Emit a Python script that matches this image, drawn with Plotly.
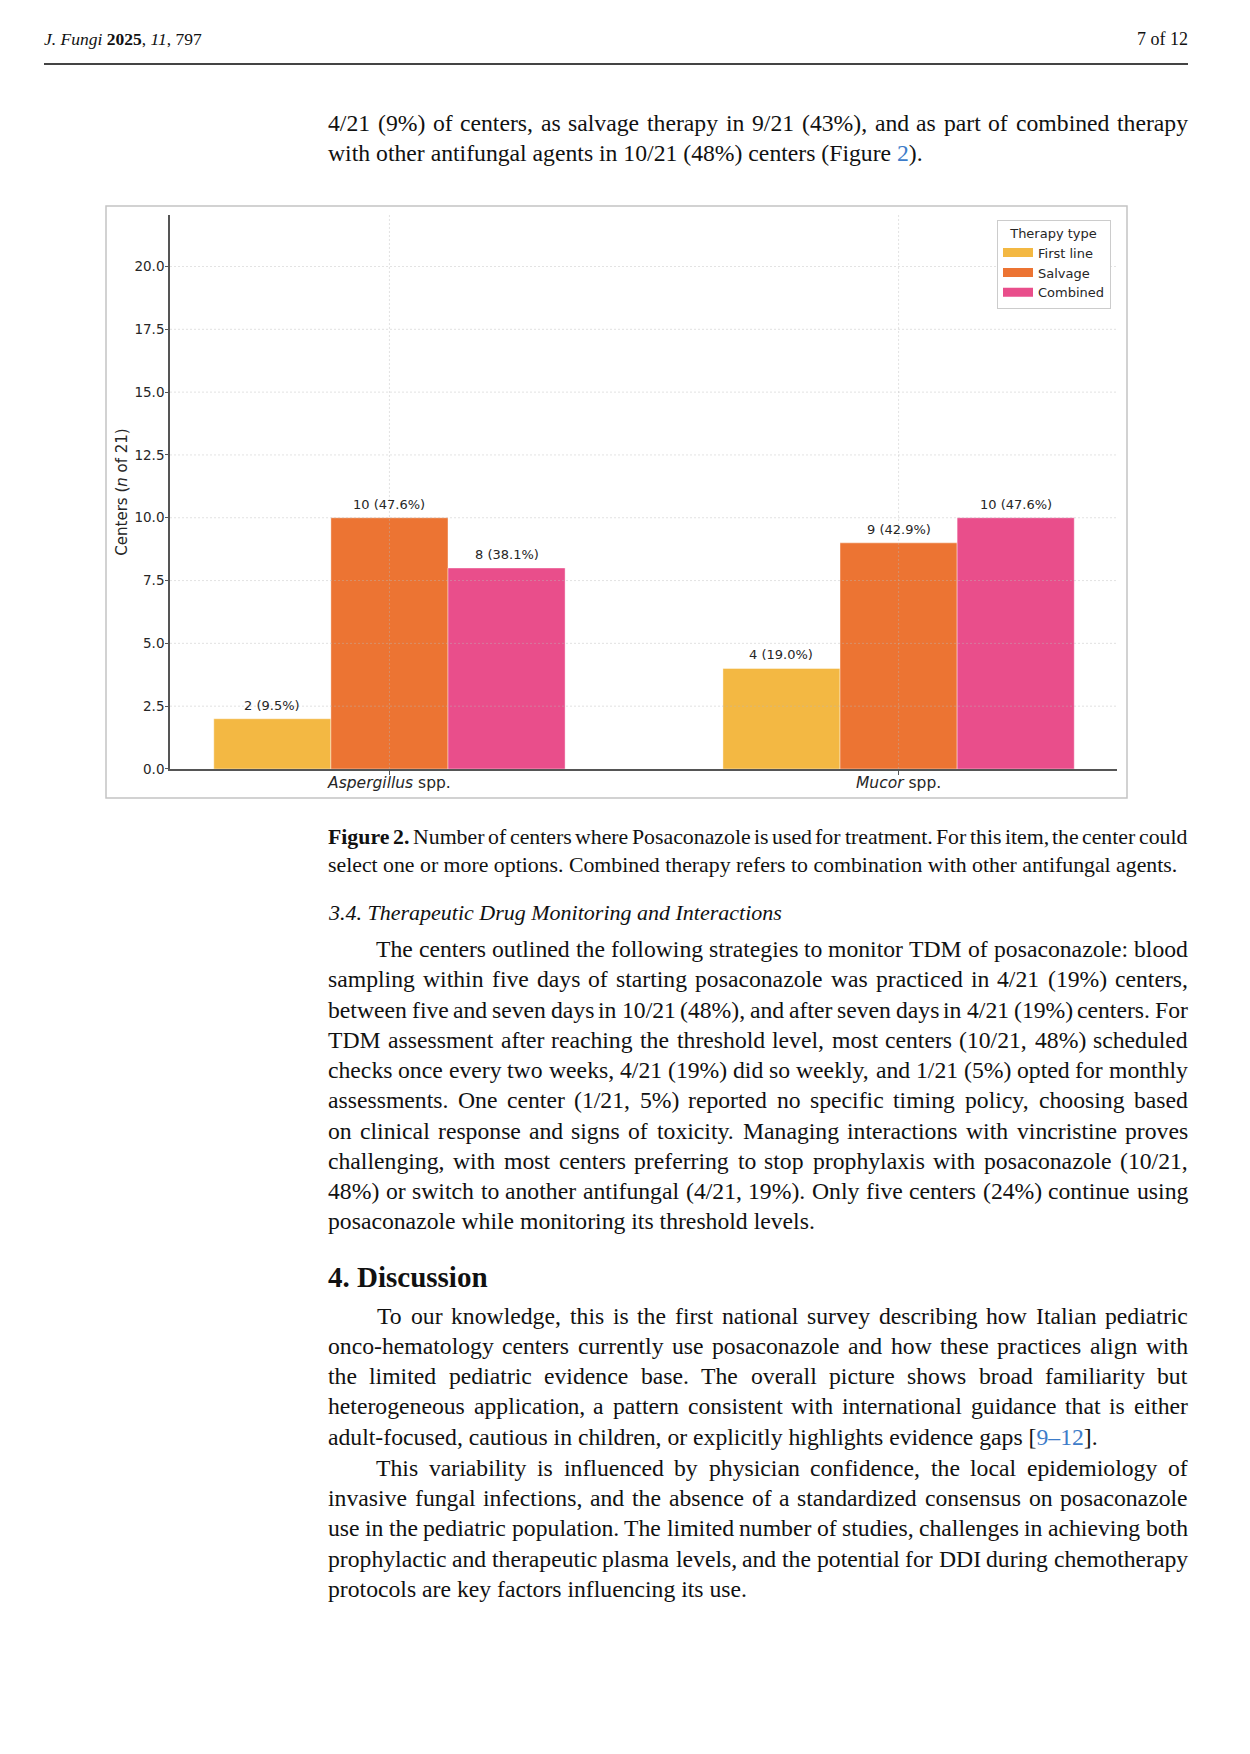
import plotly.graph_objects as go

# ---------------- data ----------------
categories = ["Aspergillus spp.", "Mucor spp."]
category_ticktext = ["<i>Aspergillus</i> spp.", "<i>Mucor</i> spp."]
therapy_types = ["First line", "Salvage", "Combined"]
first_line = [2, 4]
salvage = [10, 9]
combined = [8, 10]
total_centers = 21
y_ticks = [0, 2.5, 5, 7.5, 10, 12.5, 15, 17.5, 20]
y_max = 22.05

series = [first_line, salvage, combined]
bar_colors = ["rgb(243,184,67)", "rgb(236,116,51)", "rgb(233,78,139)"]

# ---------------- page geometry helpers ----------------
W, H = 1250, 1754
SY = 1762 / 1754  # small vertical compensation observed in the rendered page
def px(x):
    return x / W
def py(y):
    return 1 - y * SY / H

CHART_FONT = "DejaVu Sans"
BODY_FONT = "Liberation Serif"
TEXT = "#111111"
LINK = "#3d7cc9"
AX = "#555555"
CHART_TXT = "#262626"
GRID = "rgba(185,185,185,0.42)"
BARGAP = 0.31

annotations = []
shapes = []

fig = go.Figure()
x_pos = list(range(len(categories)))
bar_w = (1 - BARGAP) / len(series)
for k, (name, vals, col) in enumerate(zip(therapy_types, series, bar_colors)):
    fig.add_trace(go.Bar(
        x=x_pos, y=vals, name=name, showlegend=False,
        marker=dict(color=col, line=dict(color="rgba(255,255,255,0.5)", width=0.8)),
        hoverinfo="skip",
    ))
    # value labels above each bar (positioned at the bar centres of the grouped layout)
    for i, v in zip(x_pos, vals):
        annotations.append(dict(
            text=f"{v} ({v / total_centers * 100:.1f}%)",
            x=i + (k - (len(series) - 1) / 2) * bar_w, y=v, xref="x", yref="y",
            xanchor="center", yanchor="middle", yshift=13.5, showarrow=False,
            font=dict(family=CHART_FONT, size=13, color=CHART_TXT)))
# legend entries drawn as wide swatches (matplotlib-style patches)
for name, col in zip(therapy_types, bar_colors):
    fig.add_trace(go.Scatter(x=[None], y=[None], mode="lines", name=name,
                             line=dict(color=col, width=9), hoverinfo="skip"))

# dotted grid drawn above the bars (as in the source figure)
for t in y_ticks[1:]:
    shapes.append(dict(type="line", xref="x domain", yref="y", x0=0, x1=1, y0=t, y1=t,
                       layer="above", line=dict(color=GRID, width=1, dash="2px,2px")))
for i in x_pos:
    shapes.append(dict(type="line", xref="x", yref="y domain", x0=i, x1=i, y0=0, y1=1,
                       layer="above", line=dict(color=GRID, width=1, dash="2px,2px")))

# ---------------- text metrics (Times / Liberation Serif) ----------------
TIMES = {' ': 250, '%': 833, '(': 333, ')': 333, ',': 250, '-': 333, '.': 250, '/': 278,
         ':': 278, ';': 278, '[': 333, ']': 333, '–': 500,
         'A': 722, 'B': 667, 'C': 667, 'D': 722, 'E': 611, 'F': 556, 'G': 722, 'H': 722,
         'I': 333, 'J': 389, 'K': 722, 'L': 611, 'M': 889, 'N': 722, 'O': 722, 'P': 556,
         'Q': 722, 'R': 667, 'S': 556, 'T': 611, 'U': 722, 'V': 722, 'W': 944, 'X': 722,
         'Y': 722, 'Z': 611,
         'a': 444, 'b': 500, 'c': 444, 'd': 500, 'e': 444, 'f': 333, 'g': 500, 'h': 500,
         'i': 278, 'j': 278, 'k': 500, 'l': 278, 'm': 778, 'n': 500, 'o': 500, 'p': 500,
         'q': 500, 'r': 333, 's': 389, 't': 278, 'u': 500, 'v': 500, 'w': 722, 'x': 500,
         'y': 500, 'z': 444}
for d in "0123456789":
    TIMES[d] = 500
TIMES_BOLD = dict(TIMES)
TIMES_BOLD.update({'F': 611, 'i': 278, 'g': 500, 'u': 556, 'r': 444, 'e': 444, '2': 500, '.': 250})

def text_w(word, size, bold=False):
    table = TIMES_BOLD if bold else TIMES
    return sum(table.get(c, 500) for c in word) * size / 1000.0

DISPLAY = {
    "2).": f"<span style='color:{LINK}'>2</span>).",
    "[9–12].": f"[<span style='color:{LINK}'>9–12</span>].",
}

def add_text(text, x, y, size, xanchor="left", family=BODY_FONT, color=TEXT, angle=0):
    annotations.append(dict(text=text, x=px(x), y=py(y), xref="paper", yref="paper",
                            xanchor=xanchor, yanchor="middle", showarrow=False,
                            textangle=angle, borderpad=0, borderwidth=0,
                            font=dict(family=family, size=size, color=color)))

LEFT, RIGHT = 328, 1188
INDENT = 48

def justified(line, y, size, indent=0, bold_words=0):
    words = line.split()
    widths = [text_w(wd, size, i < bold_words) for i, wd in enumerate(words)]
    x0 = LEFT + indent
    gap = (RIGHT - x0 - sum(widths)) / (len(words) - 1)
    x = x0
    for i, wd in enumerate(words):
        disp = DISPLAY.get(wd, wd)
        if i < bold_words:
            disp = f"<b>{disp}</b>"
        add_text(disp, x + widths[i] / 2, y, size, xanchor="center")
        x += widths[i] + gap

def ragged(line, y, size, indent=0):
    disp = " ".join(DISPLAY.get(wd, wd) for wd in line.split())
    add_text(disp, LEFT + indent, y, size)

BODY = 23.7
CAP = 21.8

# header
add_text("<i>J. Fungi</i> <b>2025</b>, <i>11</i>, 797", 44, 39.4, 17.5)
add_text("7 of 12", 1188, 39.4, 18, xanchor="right")

# text above figure
justified("4/21 (9%) of centers, as salvage therapy in 9/21 (43%), and as part of combined therapy", 122.9, BODY)
ragged("with other antifungal agents in 10/21 (48%) centers (Figure 2).", 153.1, BODY)

# caption
justified("Figure 2. Number of centers where Posaconazole is used for treatment. For this item, the center could",
          837.0, CAP, bold_words=2)
ragged("select one or more options. Combined therapy refers to combination with other antifungal agents.", 865.0, CAP)

# section 3.4
add_text("<i>3.4. Therapeutic Drug Monitoring and Interactions</i>", LEFT, 912.3, 22)

p1 = [
    "The centers outlined the following strategies to monitor TDM of posaconazole: blood",
    "sampling within five days of starting posaconazole was practiced in 4/21 (19%) centers,",
    "between five and seven days in 10/21 (48%), and after seven days in 4/21 (19%) centers. For",
    "TDM assessment after reaching the threshold level, most centers (10/21, 48%) scheduled",
    "checks once every two weeks, 4/21 (19%) did so weekly, and 1/21 (5%) opted for monthly",
    "assessments.  One center (1/21, 5%) reported no specific timing policy, choosing based",
    "on clinical response and signs of toxicity. Managing interactions with vincristine proves",
    "challenging, with most centers preferring to stop prophylaxis with posaconazole (10/21,",
    "48%) or switch to another antifungal (4/21, 19%). Only five centers (24%) continue using",
    "posaconazole while monitoring its threshold levels.",
]
p2 = [
    "To our knowledge, this is the first national survey describing how Italian pediatric",
    "onco-hematology centers currently use posaconazole and how these practices align with",
    "the limited pediatric evidence base.  The overall picture shows broad familiarity but",
    "heterogeneous application, a pattern consistent with international guidance that is either",
    "adult-focused, cautious in children, or explicitly highlights evidence gaps [9–12].",
]
p3 = [
    "This variability is influenced by physician confidence, the local epidemiology of",
    "invasive fungal infections, and the absence of a standardized consensus on posaconazole",
    "use in the pediatric population. The limited number of studies, challenges in achieving both",
    "prophylactic and therapeutic plasma levels, and the potential for DDI during chemotherapy",
    "protocols are key factors influencing its use.",
]

def paragraph(lines, y0, step=30.25):
    for i, ln in enumerate(lines):
        y = y0 + i * step
        ind = INDENT if i == 0 else 0
        if i == len(lines) - 1:
            ragged(ln, y, BODY, ind)
        else:
            justified(ln, y, BODY, ind)

paragraph(p1, 949.1)
add_text("<b>4. Discussion</b>", LEFT, 1276.9, 29)
paragraph(p2, 1315.6)
paragraph(p3, 1468.0)

# chart axis title
add_text("Centers (<i>n</i> of 21)", 121.7, 492, 15, xanchor="center", family=CHART_FONT,
         color=CHART_TXT, angle=-90)

shapes += [
    dict(type="line", xref="paper", yref="paper", x0=px(44), x1=px(1188), y0=py(64), y1=py(64),
         line=dict(color="#444444", width=2)),
    dict(type="rect", xref="paper", yref="paper", x0=px(106), x1=px(1127), y0=py(798), y1=py(206),
         line=dict(color="#c4c4c4", width=1.5), fillcolor="rgba(0,0,0,0)", layer="below"),
]

fig.update_layout(
    width=W, height=H, autosize=False,
    margin=dict(l=0, r=0, t=0, b=0),
    paper_bgcolor="white", plot_bgcolor="white",
    barmode="group", bargap=BARGAP, bargroupgap=0,
    showlegend=True,
    legend=dict(
        x=px(997), y=py(219.7), xanchor="left", yanchor="top",
        bgcolor="white", bordercolor="#cccccc", borderwidth=1,
        font=dict(family=CHART_FONT, size=13, color=CHART_TXT),
        title=dict(text="Therapy type", side="top center",
                   font=dict(family=CHART_FONT, size=13, color=CHART_TXT)),
        tracegroupgap=0, itemwidth=30, traceorder="normal",
    ),
    xaxis=dict(
        domain=[px(170), px(1117)], range=[-0.431, 1.429],
        tickmode="array", tickvals=x_pos, ticktext=category_ticktext,
        showgrid=False,
        showline=True, linecolor=AX, linewidth=1.6, zeroline=False,
        ticks="outside", ticklen=4, tickcolor=AX, tickwidth=1,
        ticklabelstandoff=-5,
        tickfont=dict(family=CHART_FONT, size=15.5, color=CHART_TXT),
        fixedrange=True, layer="above traces",
    ),
    yaxis=dict(
        domain=[py(769), py(215)], range=[0, y_max],
        tickmode="array", tickvals=y_ticks, tickformat=".1f",
        showgrid=False,
        showline=True, linecolor=AX, linewidth=1.6, zeroline=False,
        ticks="outside", ticklen=3, tickcolor=AX, tickwidth=1,
        ticklabelstandoff=-2,
        tickfont=dict(family=CHART_FONT, size=13.5, color=CHART_TXT),
        fixedrange=True, layer="above traces",
    ),
    annotations=annotations,
    shapes=shapes,
)

fig.write_html("out.html", config={"displayModeBar": False},
               post_script="document.body.style.margin='0';")
